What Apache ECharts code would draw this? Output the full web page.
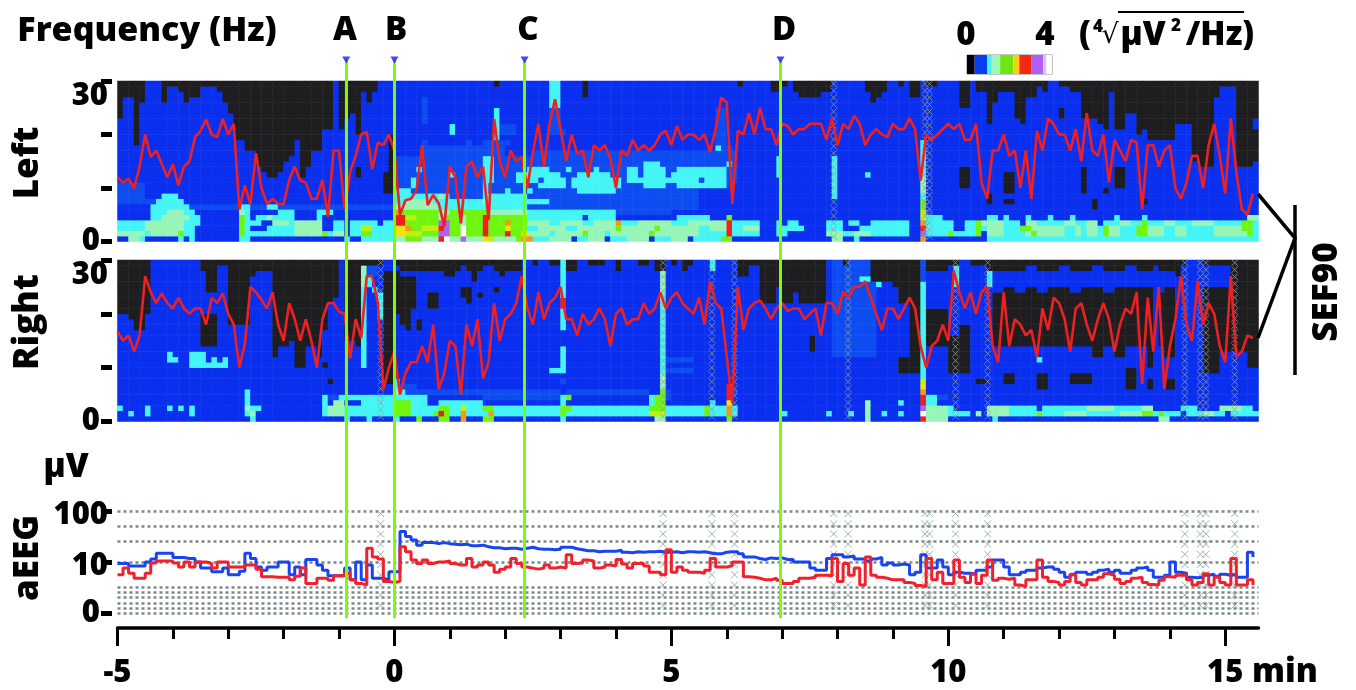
<!DOCTYPE html>
<html><head><meta charset="utf-8">
<script src="https://cdn.jsdelivr.net/npm/echarts@6/dist/echarts.min.js"></script>
<style>html,body{margin:0;padding:0;background:#fff}#c{width:1356px;height:690px}</style>
</head><body><div id="c"></div>
<script>
// ---------- values ----------
const levelCodes = ['k','b','m','c','p','g','l','y','o','r','v','w'];
const levelColors = ['#1e1e20','#0a2fee','#0d4cf0','#45f5f5','#98f5b8','#70f510','#c0f010','#f5e010','#f59a10','#f01f1f','#b060f0','#ffffff'];
const scaleColors = ['#000000','#0a3cf0','#45f5f5','#a0f5b8','#70e510','#f5d010','#f52810','#b060f0','#d8c0f8','#ffffff'];
const scaleWidths = [0.36,0.58,0.23,0.39,0.62,0.28,0.58,0.54,0.16,0.26];
const markerNames = ['A','B','C','D'];
const markerTimes = [-0.87,0,2.35,6.97];
const axisMinutes = [-5,0,5,10,15];
const minorMinutes = [-4,-3,-2,-1,1,2,3,4,6,7,8,9,11,12,13,14];
const aeegGridLevels = [20,16.99,13.98,10,5,4,3,2,1,0];
const artifactLeft = [7.93,9.58,9.66];
const artifactRight = [-0.25,4.85,5.73,6.14,8.19,10.13,10.71,14.27,14.55,14.65,15.17];
const artifactAeeg = [-0.25,4.85,5.73,6.14,7.93,8.19,9.58,9.66,10.13,10.71,14.27,14.55,14.65,15.17];

// black columns: [end column, from, to, from, to ...] counted in rows from the top
const leftBlack = [[1,0,7],[3,0,3],[4,0,12],[5,0,4],[8],[9,0,4],[11,0,1],[12,0,2],[13,0,4],[15,0,3],[18,0,1],[19,0,2],[20,0,4],[21,0,6],[23,0,11],[25,0,13],[26,0,16],[27,0,17],[29,0,18],[30,0,17],[31,0,15],[32,0,14],[33,0,11],[34,0,18],[35,0,16],[37,0,13],[39,0,9],[40],[41,0,9],[42,0,7],[43,0,6],[44,0,10,16,18],[45,0,2],[46,0,4],[47,0,2],[48],[49,17,21],[50,10,21],[68],[69,0,1],[84],[85,0,3],[112],[113,0,1],[118],[120,0,2],[121,0,1],[122],[123,0,2],[127,0,3],[129,0,2],[135],[136,0,2],[137,0,4],[138,0,3],[139,0,2],[141],[142,0,1],[143],[145,0,3],[146],[148,0,1],[152],[154,0,5,16,20],[155],[157,0,2],[158,0,8,21,23],[159,0,4],[160,0,2],[162,0,2,17,21,22,23],[163,0,7],[164,0,8],[166,0,3],[167,0,1],[168,0,2],[170],[171,0,1,5,7],[172,0,1],[174,0,2],[175,0,7,16,21],[176,0,7],[177,0,7,22,24],[178,0,8],[179,0,9,20,21],[180,0,2],[182,0,9,16,20],[184,0,6],[185,0,10],[186,0,9,22,23],[191,0,11],[194,0,8],[195,0,15],[198,0,16],[199,0,3],[202,0,1],[205,0,16],[206,0,7,9,15]];
const rightBlack = [[2,0,10],[3,0,11],[5,0,13],[6,0,10],[15],[16,0,2,10,16],[18,0,6,10,16],[20,0,1],[24,0,12],[25,0,3],[28,0,2],[29,0,18],[31,0,16],[32,0,15],[34,0,20],[36,0,16],[37,0,18],[38,0,13,19,20],[39,0,8,22,23],[40,0,7],[41],[43,0,15],[44,0,16],[47,0,1],[48,0,1],[50,2,23],[51,0,1,2,10],[52,0,2,3,12],[53,0,2,3,13],[54,0,2,3,9],[55,0,2,11,13],[56,0,2],[58,0,2,6,9],[59,0,2],[61,0,3],[62,0,2],[63,0,1,5,7],[64,0,2,5,8],[65,0,4],[66,0,2,6,7],[68,0,1],[69,0,2,5,6],[70,0,3],[73,0,2],[75],[76,0,1],[78],[80,0,1],[81],[83,0,2],[85],[88,0,1],[90],[91,0,2],[94],[96,0,1],[97],[99,0,2],[100],[101,0,1],[102],[103,0,2],[104,0,1],[112],[114,0,3],[116,0,1],[118,0,8],[119,0,8],[120,0,5],[122,0,8],[123,0,6],[125,0,8],[126,0,8,14,17],[128,0,8],[131],[132,0,1],[136],[140,0,4],[141,0,5],[143,0,8,18,21],[145,0,21],[146],[150,0,2,9,16],[152,0,1,14,21],[154,12,21],[155,0,1],[157,0,1,22,23],[158,0,2],[160,0,2,6,16],[162,0,2,5,16,21,23],[164,0,2,6,16],[166,0,1,5,16],[168,0,2,6,16,21,24],[170,0,2,5,16],[172,0,1,5,16],[174,0,2,6,16,21,23],[176,0,2,5,16,21,23],[178,0,1,5,18],[180,0,2,6,16],[182,0,2,5,18],[184,0,1,5,16,20,24],[186,0,2,5,16],[187,0,2,5,20,22,24],[188,0,1],[189,0,2,6,16],[191,0,2,5,18,22,24],[192,0,3],[193,0,1],[196],[199,0,1,5,21],[201,0,1,5,17],[204,0,17],[206,0,20]];

// colour rows, bottom row first: level letter + end column
const leftRows = [
"b2p4c5b11c12b13c14b22c24b41c42b44c50p52g55p58r59w60p62v63p66y67l68p72g73o75c78p82b83c85p88b89c92p96b97c100p103b104c109g111b129p131b133c134b145o146b157c206",
"p5c6p11g12c14b22g23c32p37g38c39p41b42c44g46c50y52l55g58v60g62w63g66r67g70r71g73y74p78c79p84g85p88c89p96g97p105c110r111c116b119c121b128p131c133p136c143b145v146c150g151c155g156b157p160c164p165g166p171c173p174c175p177c178g179p181c184g186p189c191p193c198p204g205c206",
"c5p12c14b22g23c24b27c32p37b39c41b42c44l46c50y52o53g55l58r59v60g62w63g66r67g70y71g74c76p81c83p90g91p97g98p105c107p110r111c113p116b119c121c124b128c131b134c136c143b145r146c151b153c155g156c157p160c163g165p171c173p174c175p177c178g179p181c184g186p189c191p193c198p203g205c206",
"c5p12c15b22g23c26b28p31c32p37b39c41b42c47b48c50r52g58v60g62p63g66r67g70o71g74p78c80p84c86p90o91c94p100c103p110r111c116b119c120b121c123b128c131b132c134b136c143b145o146c151b153c155g156p160c163b164p166c171p173c175p177b178c181p183c185g186c189p191c194p198c203g205c206",
"b6c8p13c15b22g23c24b25c27p28c32b36c37b50r52l54g58p59g62p63g66r67g74c84b85c90b101c107b110g111b145l146c149b157c159b160c161b164c165b168c169b172c173b180c181b185c186b204p206",
"b6c9p12c14b22p23c24b29c32b36c39b50o51g58p60g67p74c90m100b145l146m147b206",
"b6c13m22c24m27c29m50p51p58c74m105b145g146b206",
"m7c12b50c52p57c66p67c78m105b145g146b206",
"m5b8c9c11b50c52c58p59c60m66c68c70c72c74m105b129c130b145c146b206",
"m5b50c53m66c67m70c71m74c75m83c90m105b129c130b145p146b206",
"m5b50m53c54m66c67m76c81m82c91m95c99m101c110m111b129c130b145p146b206",
"b50m53c54m66c68m72c74c76m77c81m82c91m92c105m106c110m112b129c130b145p146b206",
"b50m60c61m66c68m72c74c80m83c89m92c94m95c99m100c110m112b119c120b129c130b135c136b145c146b206",
"b50m54c55m66c68m74c75c78m81c82m86c87m92c94m95c99m101c105c106c110m112b119c120b129c130b145c146b206",
"b50m66c68m95c98m110c111m112b119c120b129c130b145c146b206",
"b50m66c68m70m112b119c120b129c130b145c146b206",
"b55m70b75m112b145c146b206",
"b55m70b108c109m111b145c146b206",
"b55m56b63m64b66m71b108m110b145c146b206",
"b68c69b108m110b206",
"b60c61b68c69m72b78m81b108m110b206",
"b60c61b68c69m72b78m80b108m110b206",
"b55m56b68c69b78m80b108m110b206",
"b55m56b68c69b78m80b108m110b206",
"b55m56b68c69b78m80b108m110b206",
"b55m56b78c80b206",
"b55m56b78c80b206",
"b78c80b206",
"b78c80b206",
"b78c80b206"
];
const rightRows = [
"b24c25b41c42b45c46b50c51b54g55b58g60b62o63b66g68b80c81b97p99b110g111b135p136b145r146p150b158c159b188p190b206",
"b2c3b5c6b13c14b23c24p25b37c38p41c50g53c57g58c58r59g60c62o63c67o68c80g81c96l99c105c106g107c110o111c112b120c121b128c129b132c133b135p136b138c139b141c142b145w146p150c151c154b155p156b157p161c166g167c171p175c181p185g187c188g189c192b193c196p198c200b201c206",
"c1b5c6b9c10b11c12b13c14b23p24c26b37c38p41c44c50g53c58g60c62l63c66g68c80g82c96g99c105c106g107c110o111c112b135p136b145v146p150c151b157p161c166b167c175p180c185p187b192c195b199p203c205b206",
"b23c24b37c38b39p41b44c46c50g53c56b58c60c66b80c81b96c97g99b107c108b110y111b135p136b141c142b145r146c148b206",
"b23c24b37c38m40c50c56b66m80c81g82b96c97g99m100b110r111b145r146c148m150b206",
"b23c24b50p51c52m80b81m96b98g99m100b110r111m112b145o146b206",
"b50c51m54b98p99b110r111b145y146b206",
"b50c51b80m81b98p99b145l146b206",
"b50b98p99b145c146b206",
"b78c81b98c99m104b145c146b206",
"b13c14c15c16c18c19c20b44c45b80c81b98c99b145c146b206",
"b9c11b13c16b17c18b19c20b44c45b80c81b98c99m104b145c146b166c167b206",
"b9c10b13c16b44c45b80c81b98c99b129m137b145c146b206",
"b44c45b80c81b98c99b129m137b145c146b206",
"b44c45b98c99b129m137b145c146b206",
"b44c45b98c99b129m137b145c146b206",
"b44c45b98c99b129m137b145c146b206",
"b44c45b80c81b98c99b129m137b145c146b206",
"b44c45b80c81b98c99b129m137b145c146b206",
"b44c45b47c48b80c81b98c99b129m137b145c146b206",
"b44c45b47c48b80c81b98c99b129m137b145c146b206",
"b44c45b47c48b80r81b98c99b129m137b145c146b206",
"b44c45b47c48b80r81b98c99b129m137b145c146b206",
"b44c45b47c48b80c81b98c99b129m137b145c146b206",
"b44c45b46c47b80c81b98p99b129m137b145c146b206",
"b44p45c46b80c81b98p99b129m137c138b145c146b151c152b157c158b201c202b206",
"b44p45c46b80c81b98p99b129m134c136m137b145m146b151c152b157c158b201c202b206",
"b44p45m47b80c81b98p99b129m137b145m146b151c152b157c158b201c202b206",
"b44p45m47b80c81b98p99b107c108b129m137b145m146b151c152b157c158b201c202b206",
"b5m6b44p45m47b80c81b98p99b107c108b129m137b145m146b151c152b157c158b201c202b206"
];

// SEF90 (Hz), one value per column
const sefLeft = [12,11,11.7,9.9,14,20,15.8,17,14.5,12,
14.5,10.5,14,15,19.5,20.7,22.8,20,19.5,22.9,
20,22,6,10.5,7,16.5,10,7,8,7,
7,11.5,14,11.4,11,8,8,11.5,4.6,17,
17,6,13,16,20,20.5,13.5,18.5,18,20,
17,5,7.7,8,9.6,18,6.8,8.7,7.1,2.8,
14,12,3.4,14,15,12,14,4,22.9,15,
12,17,15,15.8,10,16.7,22,14,22,26.6,
21,15,20,16.4,17,12,18,17,18,15.5,
10,17,16,19,17,18,17,18,20,20.7,
18,21.6,19,20,20,19,20,16.7,21,26.9,
26,7,20.7,20,24,20,25,21,21,18,
22,21.6,20,21,21,22,22,22,19,23,
18,22,21,23.5,22,18,20,21,20,19.5,
22,21,21,23,21,11.4,20,19,20,21,
22,21,22,19,19,22,11,8,17,17,
20,16,17,10,17,8,20.7,17,23,22,
20,20,17,21,15,24,17,16,20,11,
19,17,15,19,18.5,6,18,18,14,17,
18,10,8,11,16,16,10,18,22,16,
9,23,13,6,5,9];
const sefRight = [16.7,15,16,13,16,27,24,22,23.8,22,
21,23,21,20,21,21,18,23,22,23.8,
20,18,10,14.5,25,24,22.6,21,24,18,
15,22,19,15,19,15,10,19,22,22,
20.4,20,11.7,19,15.5,27,27,22,5.9,10,
13,5,9,11,11,14,11,18,6,9,
15,14,5,18,14,19,8,11,22,15,
19,20,22,27,21,18,24,19,22,23,
25,19,19,16,20,18,19,21,19,14,
20,21,18,19,19,22,20,21,24,21,
23,24,22,21,20,23,18,26,22,21,
12,3.4,25,17,21,22,22.5,21,19,21,
22,20.5,21,21,19,20,21,16,22,22,
20,24,23,25,25,26,23,20,17,21,
21,19,21,23,21,14,10,14,15,18,
15,28,24,21,24,20,24,25,14,11,
24,14,19,18,16,17,12,21,17,23,
22,19,13,21,22,18,15,19,22,19,
13,18,21,20,24,7,23,13,25,6,
14,19,27,18,15,26,18,22,20,14,
11,27,12,13,16,15.5];

// aEEG traces, position on the semi-log scale (0-10 linear up to 10 uV, 10-20 log from 10 to 100 uV)
const aeegBlue = [9.7,9.7,9.2,9.2,9.2,10,10.6,11.7,11.7,11.7,
10.9,10.9,10.7,10.7,10,8.8,8.8,8.1,8.1,8.8,
7.5,7.5,8.2,11.7,10.7,9,8.4,9,9,10,
10,7.5,9,7.5,10.5,10.5,9.4,8.4,7.3,7.3,
7.3,8.8,6.5,10,6.5,9.4,6.8,6.8,6.5,8.1,
8.1,16,15,14.3,13.3,13.8,13.8,13.6,13.8,13.6,
13.5,13.4,13.5,13.2,13.2,13.3,13,12.8,12.8,12.6,
12.7,12.7,12.5,12.7,12.9,12.6,12.5,12.5,12.4,12.5,
12.9,12.9,12.6,12.4,12.2,12.2,12,12.1,12.1,12.1,
12.3,11.9,11.8,12,11.9,12,12,12.1,11.9,11.9,
12,11.8,12,12,11.9,12,11.8,11.6,11.6,11.9,
12,12,11.6,11,11,10.7,10.5,10.8,10.7,10.8,
10.5,10.5,10,10,10,8.8,8.4,8.4,10.7,11.4,
11.4,11,11.2,10.6,10.6,10.2,10.6,10.9,9.4,9.8,
9.4,9.6,9.4,7.5,8,11.4,8.8,8.8,10.4,9,
7.5,8,7.8,7.8,7.6,8.4,8.4,9,10.4,10.4,
9,7.5,7.5,8,8.4,8.4,8.8,9,9,8.6,
8,7,7.6,8,8,7.6,8,8.4,8.6,8,
8.4,7.8,7.8,8.4,8.8,9,8.4,7,7,7.4,
10,8,7.8,7,6.9,7,7.4,7.6,7.2,7.6,
7.4,7.6,7,7,11.9,11];
const aeegRed = [7.5,8.8,7.8,6.8,6.8,7.8,9.8,10.2,10.2,10.2,
9.8,9,10,9,10,10,9.7,8.8,10,10,
9,9,9,9.4,9.4,8.6,7.1,7.1,7,7,
7,6.5,7.2,8.8,5.8,5.8,6.8,6.8,6.4,7.3,
7.3,7.8,6.5,5.8,5.5,12.7,11,10.6,6.2,6,
6.2,13,12,10.4,9.7,10.4,9.7,10,10,10.2,
9.7,9.4,9.4,10.7,9,9.4,10,9.4,8,8.6,
9,10.7,9.7,9,8.8,8.6,8.8,9.4,8.8,9,
8.8,11.4,9.7,9.8,10.4,10.2,8.8,9,9.4,9.2,
10.5,9.6,8.8,9.7,9.7,9.2,8,8,7.5,12.4,
8,9,8.4,8,8,7.8,8.4,10.7,9,9,
9.3,10,10,7.1,7,6.8,6.5,6.5,6.8,6.4,
5.8,5.8,6.2,6.8,6.8,7,7.4,7.4,7.3,10.7,
6.2,9.7,7.4,8.8,5.5,11,7.4,7,6.8,6.5,
6.5,6.5,6,5.8,5.4,5.2,10.7,6.5,8,5.8,
5.8,10.4,7,6,7.6,5.8,7.4,10.4,6.4,6.8,
6.6,6.8,5.5,5.2,6.5,6.5,10.4,7,6.2,6,
5.5,6.2,7.5,6,5.5,6.5,6.5,7,7.7,7.4,
6.6,5.8,6.2,6.8,7,6,5.6,5.5,6.4,7.1,
7,7.4,7.4,6.5,5.5,6,7.7,5.5,7,6,
5.5,10.7,5.5,5.5,6.5,5.5];

// ---------- building ----------
const COLS = 206, ROWS = 30, T0 = -5, T1 = 15.6;
const colIndex = Array.from({length:COLS},(_,i)=>i);
const rowIndex = Array.from({length:ROWS},(_,i)=>i);
const timeOf = i => T0 + (T1-T0)*i/COLS;

function buildCells(rows, black){
  const g = rows.map(s=>{
    const out = new Array(COLS).fill(1); let p = 0;
    for (const m of s.matchAll(/([a-z])(\d+)/g)){
      const e = +m[2], lv = levelCodes.indexOf(m[1]);
      for(;p<e && p<COLS;p++) out[p]=lv;
    }
    return out;
  });
  let c0 = 0;
  for (const run of black){
    for(let c=c0;c<run[0];c++)
      for(let k=1;k<run.length;k+=2)
        for(let t=run[k];t<run[k+1];t++) g[ROWS-1-t][c]=0;
    c0 = run[0];
  }
  const cells=[];
  g.forEach((row,r)=>row.forEach((v,c)=>cells.push([c,r,v])));
  return cells;
}
const trace = a => a.map((v,i)=>[timeOf(i),v]);
const hatch = (times,top,step) => {
  const pts=[];
  times.forEach(t=>{ for(let y=top;y>=0;y-=step) pts.push([t,y]); });
  return pts;
};
const FONT = 'Open Sans';
const TXT = {fontFamily:FONT,fontWeight:800,fontSize:33,fill:'#000'};
const text = (s,x,y,extra) => ({type:'text',x,y,z:50,style:Object.assign({},TXT,{text:s,align:'center',verticalAlign:'middle'},extra&&extra.style),rotation:extra&&extra.rotation||0});
const hidden = o => Object.assign({show:false},o);

const L = 117.5, W = 1141;
const labelFont = {fontFamily:FONT,fontWeight:800,fontSize:31,color:'#000'};
const yLabel = Object.assign({
  show:true,margin:4,
  verticalAlignMaxLabel:'top',
  rich:{z:Object.assign({padding:[0,8,0,0]},labelFont)},
  formatter:v=> v===30?'30':(v===0?'{z|0}':'')
},labelFont);
const freqAxis = g => ({type:'value',gridIndex:g,min:0,max:30,interval:10,offset:5.5,position:'left',
  axisLine:{show:false,onZero:false},splitLine:{show:false},
  axisTick:{show:true,length:11,lineStyle:{width:5,color:'#000'}},axisLabel:yLabel});
const scatterHatch = (name,x,y,data,size) => ({name,type:'scatter',xAxisIndex:x,yAxisIndex:y,data,symbol:'path://M0 0L10 10M10 0L0 10',symbolSize:size,silent:true,z:6,
  itemStyle:{color:'transparent',borderColor:'#8f9f9f',borderWidth:1}});

const series = [
  {name:'Left',type:'heatmap',xAxisIndex:0,yAxisIndex:0,data:buildCells(leftRows,leftBlack),silent:true,progressive:0},
  {name:'Right',type:'heatmap',xAxisIndex:1,yAxisIndex:1,data:buildCells(rightRows,rightBlack),silent:true,progressive:0},
  scatterHatch('artifact left',2,2,hatch(artifactLeft,29.5,1.3),6),
  scatterHatch('artifact right',3,3,hatch(artifactRight,29.5,1.3),6),
  {name:'SEF90 left',type:'line',xAxisIndex:2,yAxisIndex:2,data:trace(sefLeft),symbol:'none',z:8,lineStyle:{color:'#ee2022',width:2.6}},
  {name:'SEF90 right',type:'line',xAxisIndex:3,yAxisIndex:3,data:trace(sefRight),symbol:'none',z:8,lineStyle:{color:'#ee2022',width:2.6}},
  scatterHatch('artifact aEEG',4,4,hatch(artifactAeeg,19.5,2),7),
  {name:'grid levels',type:'line',xAxisIndex:4,yAxisIndex:4,data:[],z:2,silent:true,
    markLine:{silent:true,symbol:'none',label:{show:false},animation:false,
      lineStyle:{color:'#7a8a88',type:[3,3],width:2.5},
      data:aeegGridLevels.map(v=>({yAxis:v}))}},
  {name:'aEEG left',type:'line',step:'end',xAxisIndex:4,yAxisIndex:4,data:trace(aeegBlue),symbol:'none',z:8,lineStyle:{color:'#1a44ee',width:3}},
  {name:'aEEG right',type:'line',step:'end',xAxisIndex:4,yAxisIndex:4,data:trace(aeegRed),symbol:'none',z:9,lineStyle:{color:'#f0202c',width:3}},
  {name:'Markers',type:'scatter',xAxisIndex:6,yAxisIndex:5,z:20,silent:true,symbol:'triangle',symbolRotate:180,symbolSize:[8,7],clip:false,
    itemStyle:{color:'#1a1ce0'},
    data:markerTimes.map(t=>[t,1]),
    markLine:{silent:true,symbol:'none',label:{show:false},animation:false,z:19,
      lineStyle:{color:'#7dfa10',width:3,type:'solid'},
      data:markerTimes.map(t=>({xAxis:t}))}}
];
scaleWidths.forEach((w,i)=>series.push({type:'bar',name:'scale'+i,stack:'scale',xAxisIndex:7,yAxisIndex:6,barWidth:'100%',silent:true,
  data:[w],itemStyle:{color:scaleColors[i]}}));

const option = {
  animation:false,backgroundColor:'#fff',
  grid:[
    {left:L,top:81,width:W,height:160.5},
    {left:L,top:260,width:W,height:161.5},
    {left:L,top:511,width:W,height:102},
    {left:L,top:60,width:W,height:558},
    {left:967,top:55,width:85,height:19,show:true,borderColor:'#889',borderWidth:1,backgroundColor:'transparent'}
  ],
  xAxis:[
    hidden({type:'category',gridIndex:0,data:colIndex}),
    hidden({type:'category',gridIndex:1,data:colIndex}),
    hidden({type:'value',gridIndex:0,min:T0,max:T1}),
    hidden({type:'value',gridIndex:1,min:T0,max:T1}),
    {type:'value',gridIndex:2,min:T0,max:T1,position:'bottom',offset:15,splitLine:{show:false},
      axisLine:{show:true,onZero:false,lineStyle:{color:'#000',width:3.5}},
      axisTick:{show:true,length:18,customValues:axisMinutes,lineStyle:{color:'#000',width:3}},
      axisLabel:Object.assign({show:true,customValues:axisMinutes,margin:30,formatter:v=>String(v)},labelFont)},
    {type:'value',gridIndex:2,min:T0,max:T1,position:'bottom',offset:15,splitLine:{show:false},
      axisLine:{show:false,onZero:false},axisLabel:{show:false},
      axisTick:{show:true,length:11,customValues:minorMinutes,lineStyle:{color:'#000',width:3}}},
    hidden({type:'value',gridIndex:3,min:T0,max:T1}),
    hidden({type:'value',gridIndex:4,min:0,max:4})
  ],
  yAxis:[
    hidden({type:'category',gridIndex:0,data:rowIndex}),
    hidden({type:'category',gridIndex:1,data:rowIndex}),
    freqAxis(0),freqAxis(1),
    {type:'value',gridIndex:2,min:0,max:20,interval:10,offset:5.5,position:'left',
      axisLine:{show:false,onZero:false},splitLine:{show:false},
      axisTick:{show:true,length:11,lineStyle:{width:5,color:'#000'}},
      axisLabel:Object.assign({show:true,margin:4,
        rich:{t:Object.assign({padding:[9,0,0,0]},labelFont),
              z:Object.assign({padding:[0,8,0,0]},labelFont)},
        formatter:v=> v===20?'{t|100}':(v===10?'{t|10}':'{z|0}')},labelFont)},
    hidden({type:'value',gridIndex:3,min:0,max:1}),
    hidden({type:'category',gridIndex:4,data:['scale']})
  ],
  visualMap:{show:false,type:'piecewise',seriesIndex:[0,1],dimension:2,
    pieces:levelColors.map((color,value)=>({value,color}))},
  series,
  graphic:[
    text('Frequency (Hz)',147,31,{style:{fontSize:34}}),
    ...markerNames.map((s,i)=>text(s,[345,396,528,784][i],31)),
    text('0',966,36),text('4',1045,36),
    text('(',1085,36),
    text('4',1098,27,{style:{fontSize:17}}),
    text('√',1110,36,{style:{fontFamily:'DejaVu Sans',fontWeight:400,fontSize:27}}),
    text('µV',1143,36),
    text('2',1176,26,{style:{fontSize:17}}),
    text('/Hz)',1220,36),
    {type:'line',z:50,shape:{x1:1118,y1:12,x2:1244,y2:12},style:{stroke:'#000',lineWidth:2}},
    text('Left',28,163,{rotation:Math.PI/2,style:{fontSize:35}}),
    text('Right',28,322,{rotation:Math.PI/2,style:{fontSize:35}}),
    text('aEEG',28,558,{rotation:Math.PI/2,style:{fontSize:35}}),
    text('µV',66,468),
    text('SEF90',1327,292,{rotation:Math.PI/2,style:{fontSize:35}}),
    text('min',1285,673),
    {type:'polyline',z:50,shape:{points:[[1258,194],[1295,238],[1258,338]]},style:{stroke:'#000',lineWidth:3.5,fill:'none'}},
    {type:'line',z:50,shape:{x1:1295,y1:205,x2:1295,y2:375},style:{stroke:'#000',lineWidth:3.5}}
  ]
};
const chart = echarts.init(document.getElementById('c'),null,{renderer:'canvas'});
chart.setOption(option);
</script></body></html>
